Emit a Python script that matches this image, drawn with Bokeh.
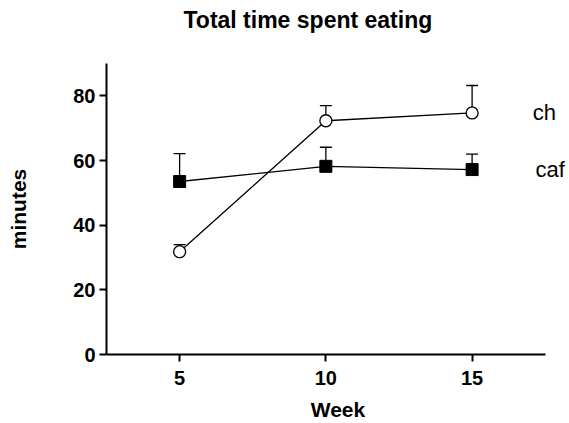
from bokeh.plotting import figure
from bokeh.models import (ColumnDataSource, Whisker, TeeHead, FixedTicker, Range1d, Label, Title)
from bokeh.embed import file_html
from bokeh.resources import INLINE

# ---- data ----
weeks = [5, 10, 15]
ch_mean = [31.8, 72.3, 74.7]
ch_err = [2.2, 4.7, 8.5]
caf_mean = [53.5, 58.2, 57.2]
caf_err = [8.6, 5.9, 4.8]
series_names = ["ch", "caf"]
x_ticks = [5, 10, 15]
y_ticks = [0, 20, 40, 60, 80]
label_x = [17.07, 17.17]
title_text = "Total time spent eating"

FONT = "Liberation Sans"

p = figure(width=569, height=423, output_backend="svg", toolbar_location=None,
           x_range=Range1d(2.5, 18.33), y_range=Range1d(0, 90),
           min_border_left=106, min_border_right=0, min_border_top=63, min_border_bottom=68)
p.outline_line_color = None
p.grid.visible = False
p.background_fill_color = "white"
p.border_fill_color = "white"

# spacer between frame and title (nearest the frame), then the real title
p.add_layout(Title(text=" ", text_font_size="1px", standoff=27), "above")
p.add_layout(Title(text=title_text, text_font=FONT, text_font_size="23px",
                   text_font_style="bold", align="left", offset=77, standoff=2,
                   text_color="black"), "above")

for ax in (p.xaxis[0], p.yaxis[0]):
    ax.axis_line_width = 2
    ax.axis_line_color = "black"
    ax.major_tick_line_width = 2
    ax.major_tick_line_color = "black"
    ax.major_tick_out = 7
    ax.major_tick_in = 0
    ax.minor_tick_line_color = None
    ax.major_label_text_font = FONT
    ax.major_label_text_font_size = "20px"
    ax.major_label_text_font_style = "bold"
    ax.major_label_text_color = "black"
    ax.axis_label_text_font = FONT
    ax.axis_label_text_font_size = "21px"
    ax.axis_label_text_font_style = "bold"
    ax.axis_label_text_color = "black"

p.xaxis.bounds = (2.5, 17.5)
p.xaxis.ticker = FixedTicker(ticks=x_ticks)
p.yaxis.ticker = FixedTicker(ticks=y_ticks)
p.xaxis.axis_label = "Week"
p.yaxis.axis_label = "minutes"
p.xaxis.major_label_standoff = 9
p.yaxis.major_label_standoff = 4
p.xaxis.axis_label_standoff = 10
p.yaxis.axis_label_standoff = 40

ch_src = ColumnDataSource(dict(x=weeks, y=ch_mean,
                               up=[m + e for m, e in zip(ch_mean, ch_err)]))
caf_src = ColumnDataSource(dict(x=weeks, y=caf_mean,
                                up=[m + e for m, e in zip(caf_mean, caf_err)]))

for src in (ch_src, caf_src):
    w = Whisker(source=src, base="x", lower="y", upper="up", dimension="height",
                line_color="black", line_width=1.3,
                lower_head=None,
                upper_head=TeeHead(size=12, line_color="black", line_width=1.3),
                level="underlay")
    p.add_layout(w)

p.line("x", "y", source=caf_src, line_color="black", line_width=1.3)
p.line("x", "y", source=ch_src, line_color="black", line_width=1.3)
p.scatter("x", "y", source=caf_src, marker="square", size=12,
          fill_color="black", line_color="black")
p.scatter("x", "y", source=ch_src, marker="circle", size=12,
          fill_color="white", line_color="black", line_width=1.3)

for name, lx, ly in zip(series_names, label_x, [ch_mean[-1], caf_mean[-1]]):
    p.add_layout(Label(x=lx, y=ly, text=name, text_font=FONT, text_font_size="22px",
                       text_baseline="middle", text_align="left", text_color="black"))

open("out.html", "w").write(file_html(p, INLINE))
